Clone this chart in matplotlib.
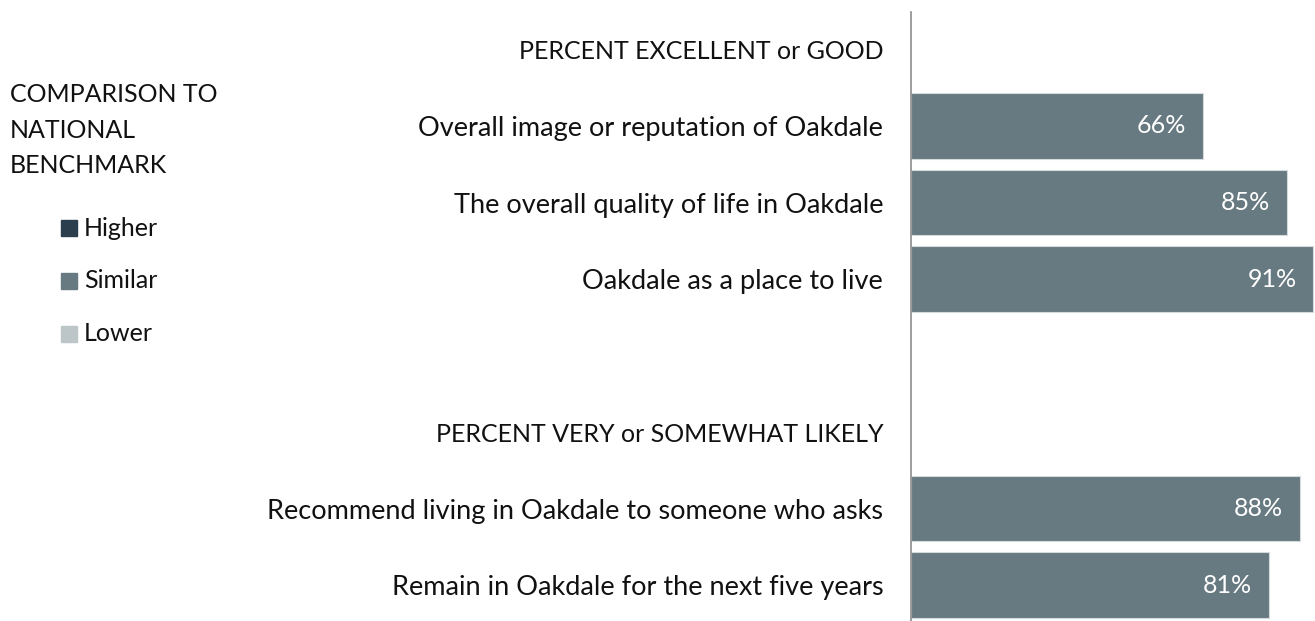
import matplotlib
matplotlib.use("Agg")
import matplotlib.pyplot as plt
from matplotlib.patches import Rectangle

plt.rcParams['font.family'] = ['Lato', 'DejaVu Sans']

# ---- data ----
categories = [
    "PERCENT EXCELLENT or GOOD",
    "Overall image or reputation of Oakdale",
    "The overall quality of life in Oakdale",
    "Oakdale as a place to live",
    "",
    "PERCENT VERY or SOMEWHAT LIKELY",
    "Recommend living in Oakdale to someone who asks",
    "Remain in Oakdale for the next five years",
]
is_header = [True, False, False, False, False, True, False, False]
values = [None, 66, 85, 91, None, None, 88, 81]
comparison = [None, "Similar", "Similar", "Similar", None, None, "Similar", "Similar"]
legend_labels = ["Higher", "Similar", "Lower"]
legend_title = "COMPARISON TO\nNATIONAL\nBENCHMARK"

colors = {"Higher": "#2B3E4D", "Similar": "#687A81", "Lower": "#BCC5C8"}

W, H = 1315, 621
fig = plt.figure(figsize=(W / 100, H / 100), dpi=100)
ax = fig.add_axes([911 / W, 0, 1 - 911 / W, 1 - 12 / H])

FS_LABEL = 19.5
FS_HEAD = 18
FS_VAL = 18
FS_LEG = 18

rows = list(range(len(categories)))
for i, (v, c) in enumerate(zip(values, comparison)):
    if v is None:
        continue
    ax.barh(i, v, height=0.86, color=colors[c], edgecolor="#d5dbdd", linewidth=0.8)
    ax.text(v - 3.8, i, f"{v}%", ha="right", va="center", color="white", fontsize=FS_VAL)

ax.set_xlim(0, 91.4)
ax.set_ylim(7.47, -0.49)
ax.set_yticks(rows)
ax.set_yticklabels(categories, color="#111111")
for lab, hd in zip(ax.get_yticklabels(), is_header):
    lab.set_fontsize(FS_HEAD if hd else FS_LABEL)
ax.tick_params(axis="y", length=0, pad=20)
ax.set_xticks([])
for s in ["top", "right", "bottom"]:
    ax.spines[s].set_visible(False)
ax.spines["left"].set_color("#8c8c8c")
ax.spines["left"].set_linewidth(1.2)

# legend
fig.text(10 / W, 1 - 130 / H, legend_title, ha="left", va="center", fontsize=FS_LEG,
         color="#111111", linespacing=1.65)
leg_y = [228, 281, 334]
for lab, y in zip(legend_labels, leg_y):
    fig.patches.append(Rectangle((61 / W, 1 - (y + 8) / H), 16 / W, 16 / H,
                                 transform=fig.transFigure, color=colors[lab]))
    fig.text(84 / W, 1 - y / H, lab, ha="left", va="center", fontsize=FS_LEG, color="#111111")

fig.savefig("out.png", dpi=100)
